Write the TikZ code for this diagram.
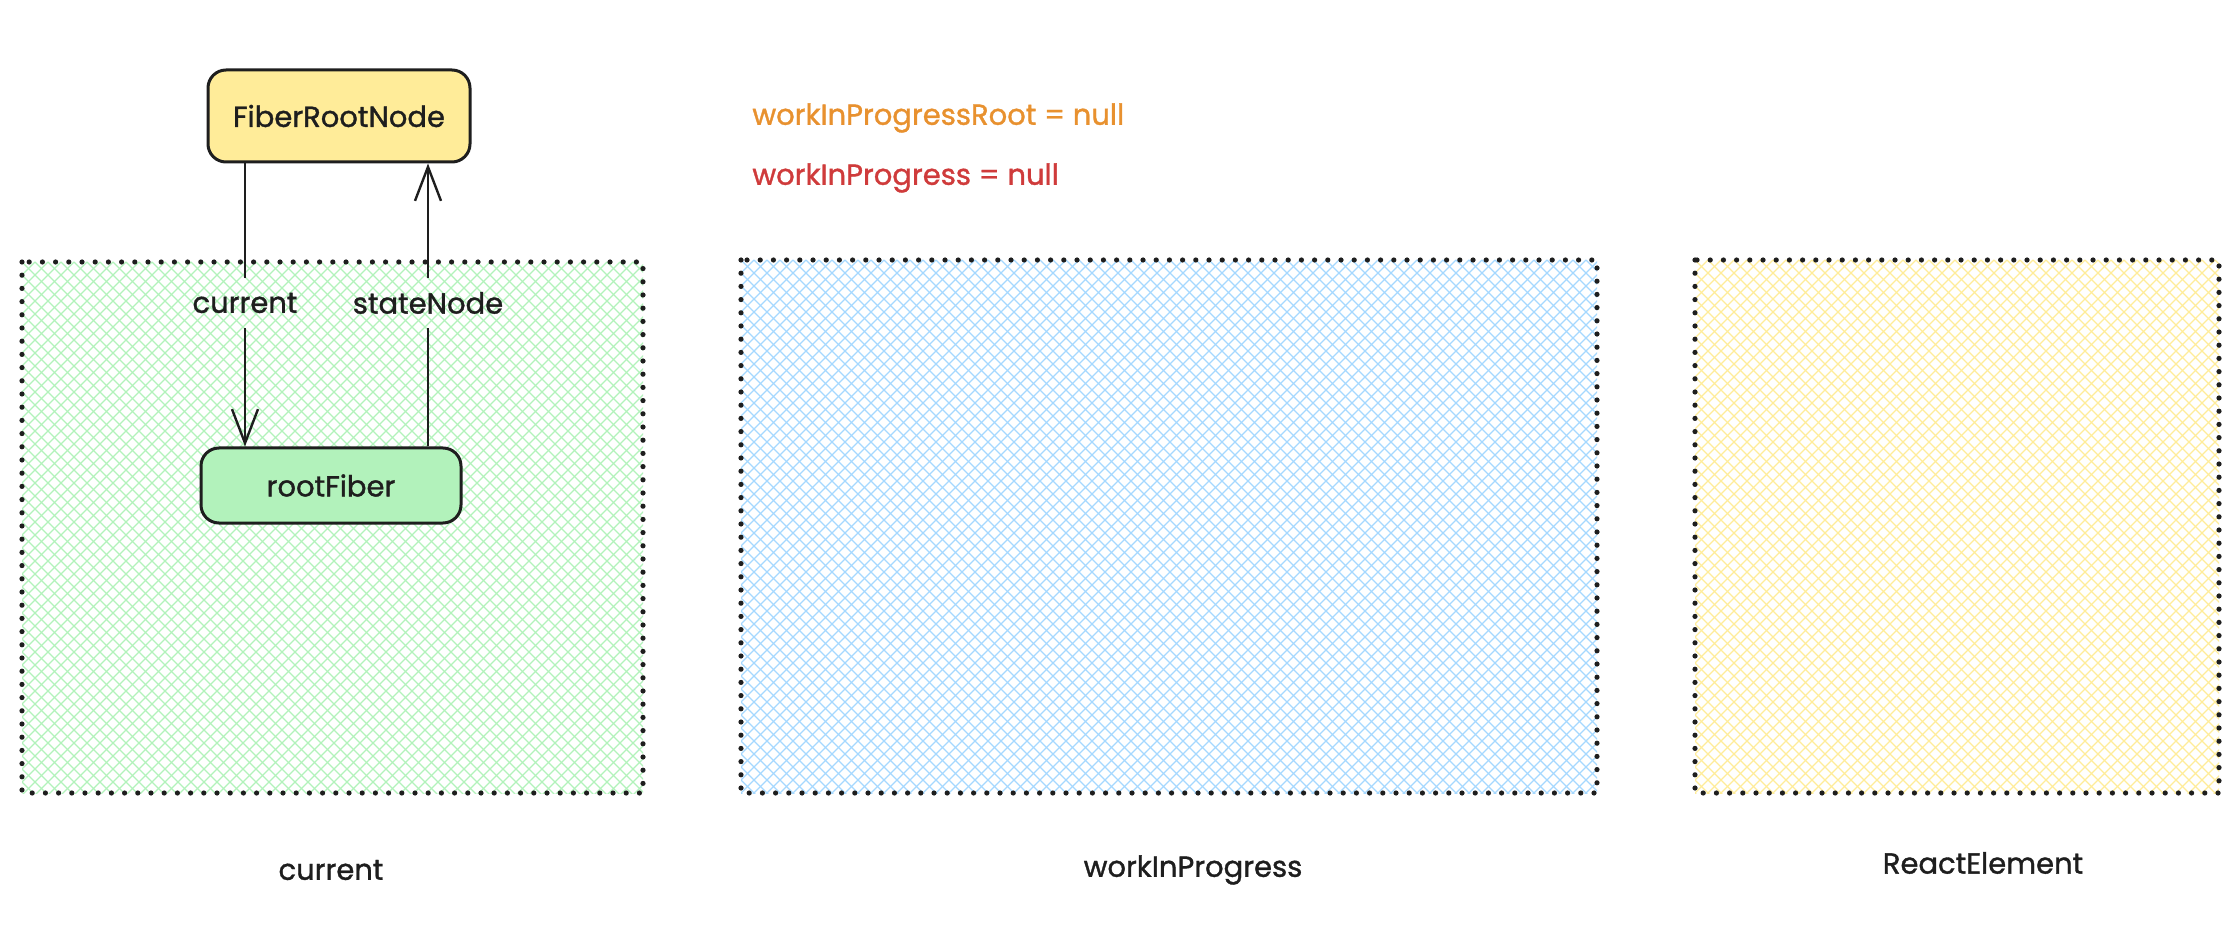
\documentclass[tikz,border=0pt]{standalone}
\usepackage{fontspec}
\setmainfont{Poppins}[FakeBold=1.2]
\usetikzlibrary{arrows.meta}
\definecolor{inkblack}{HTML}{1E1E1E}
\definecolor{rootyellow}{HTML}{FFEC99}
\definecolor{fibergreen}{HTML}{B2F2BB}
\definecolor{wipblue}{HTML}{A5D8FF}
\definecolor{wiporange}{HTML}{E8912F}
\definecolor{wipred}{HTML}{CF3B3B}
\tikzset{
  handfont/.style={font=\fontsize{14.5}{16}\selectfont},
  fiberbox/.style={draw=inkblack, line width=1.5pt, rounded corners=9pt, text=inkblack, handfont},
  areaborder/.style={draw=inkblack, line width=2.6pt, line cap=round, dash pattern=on 0pt off 6.6pt},
  hatchline/.style={draw=#1, line width=0.6pt},
  ptrlabel/.style={text=inkblack, handfont, minimum height=25pt, inner sep=0pt},
  ptr/.style={draw=inkblack, line width=1.2pt},
  ptrtip/.style={ptr, -{Straight Barb[length=17pt,width=13pt,line width=1.2pt]}},
  arealabel/.style={text=inkblack, handfont},
}
\newcommand{\hatcharea}[5]{%
  \begin{scope}
  \clip (#1,#2) rectangle (#3,#4);
  \pgfmathtruncatemacro\hfirst{#1-546}
  \pgfmathtruncatemacro\hsecond{#1-533}
  \pgfmathtruncatemacro\vsecond{#1+13}
  \pgfmathtruncatemacro\vlast{#3+546}
  \draw[hatchline=#5] \foreach \s in {\hfirst,\hsecond,...,#3} {(\s,#2) -- ++(546,546)};
  \draw[hatchline=#5] \foreach \s in {#1,\vsecond,...,\vlast} {(\s,#2) -- ++(-546,546)};
  \end{scope}
  \draw[areaborder] (#1,#2) rectangle (#3,#4);}
\begin{document}
\begin{tikzpicture}[x=0.5pt,y=-0.5pt]
\useasboundingbox (0,0) rectangle (2238,930);

\hatcharea{22}{262}{643}{793}{fibergreen}
\hatcharea{741}{260}{1597}{793}{wipblue}
\hatcharea{1695}{260}{2219}{793}{rootyellow}

\node[arealabel] (currentlbl) at (331,870) {current};
\node[arealabel] (wiplbl) at (1193,870) {workInProgress};
\node[arealabel] (reactlbl) at (1983,863) {ReactElement};

\node[handfont, text=wiporange, anchor=west, inner sep=0pt] (wiproot) at (752,118) {workInProgressRoot = null};
\node[handfont, text=wipred, anchor=west, inner sep=0pt] (wipnull) at (752,178) {workInProgress = null};

\node[fiberbox, fill=rootyellow, minimum width=131pt, minimum height=46pt] (fiberroot) at (339,116) {FiberRootNode};
\node[fiberbox, fill=fibergreen, minimum width=130pt, minimum height=37.5pt] (rootfiber) at (331,485.5) {rootFiber};

\node[ptrlabel] (curptr) at (245,303) {current};
\node[ptrlabel] (stateptr) at (428,303) {stateNode};

\draw[ptr] (fiberroot.south -| curptr) -- (curptr);
\draw[ptrtip] (curptr) -- (rootfiber.north -| curptr);
\draw[ptr] (rootfiber.north -| stateptr) -- (stateptr);
\draw[ptrtip] (stateptr) -- (fiberroot.south -| stateptr);

\end{tikzpicture}
\end{document}
